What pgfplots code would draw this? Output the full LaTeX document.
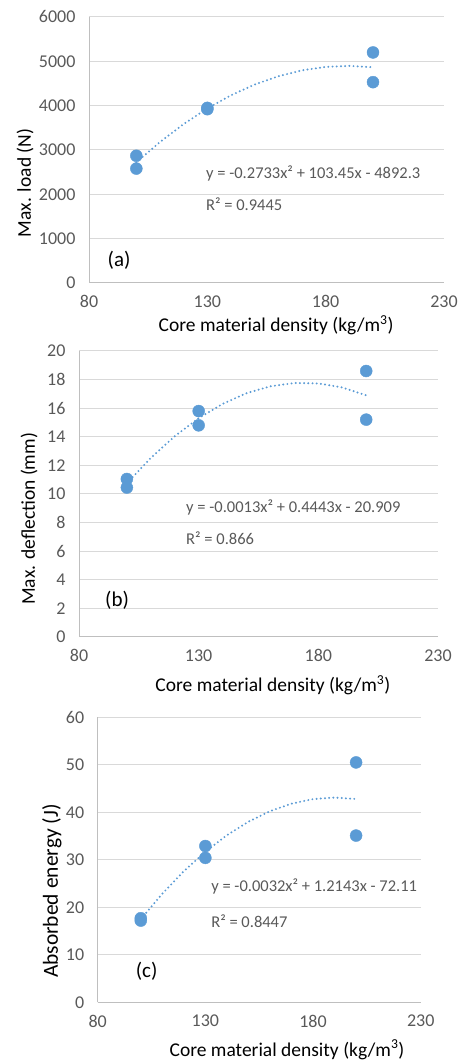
\documentclass[border=0pt]{standalone}
\usepackage{fontspec}
\setmainfont{Carlito}
\usepackage{pgfplots}
\pgfplotsset{compat=1.18}
\definecolor{xblue}{HTML}{5B9BD5}
\definecolor{tickgray}{HTML}{595959}
\definecolor{gridgray}{HTML}{D9D9D9}
\definecolor{axgray}{HTML}{BFBFBF}
\tikzset{
  eq/.style={anchor=west, text=tickgray, font=\fontsize{16.5}{18}\selectfont, inner sep=1pt},
  tag/.style={font=\fontsize{21}{23}\selectfont},
}
\pgfplotsset{
  panel/.style={
    scale only axis,
    anchor=south west,
    axis x line*=bottom,
    axis y line*=left,
    axis line style={axgray, line width=1pt},
    xmin=80, xmax=230,
    xtick={80,130,180,230},
    major tick length=0pt,
    ymajorgrids,
    grid style={gridgray, line width=1pt},
    tick label style={font=\fontsize{18}{20}\selectfont, text=tickgray},
    xticklabel style={yshift=-9pt},
    yticklabel style={xshift=-10pt},
    /pgf/number format/assume math mode=true,
    /pgf/number format/1000 sep={},
    label style={font=\fontsize{19.5}{22}\selectfont},
    clip=false,
  },
  pts/.style={only marks, mark=*, mark size=6pt, mark options={fill=xblue, draw=xblue}},
  trend/.style={no marks, xblue, line width=2.2pt, line cap=round, dash pattern=on 0pt off 4.2pt},
}
\begin{document}
\begin{tikzpicture}
\useasboundingbox (0,0) rectangle (461pt,1064pt);

% (a) max load
\begin{axis}[panel, at={(89pt,781pt)}, width=355pt, height=266pt,
  ymin=0, ymax=6000, ytick={0,1000,...,6000},
  xlabel={Core material density (kg/m\textsuperscript{3})},
  ylabel={Max. load (N)},
  xlabel style={at={(axis description cs:0.527,-0.158)}, anchor=center},
  ylabel style={at={(axis description cs:-0.18,0.376)}, anchor=center},
]
\addplot[pts] coordinates {(100,2870) (100,2580) (130,3950) (130,3920) (200,5200) (200,4530)};
\addplot[trend] coordinates {(100,2720) (110,3180) (120,3586) (130,3937) (140,4234) (150,4476)
  (160,4663) (170,4796) (180,4874) (190,4897) (200,4866)};
\node[eq] at (axis cs:129,2481) {y = -0.2733x² + 103.45x - 4892.3};
\node[eq, fill=white] at (axis cs:129,1782) {R² = 0.9445};
\node[tag] at (axis cs:92.7,519) {(a)};
\end{axis}

% (b) max deflection
\begin{axis}[panel, at={(79pt,427pt)}, width=359pt, height=286pt,
  ymin=0, ymax=20, ytick={0,2,...,20},
  xlabel={Core material density (kg/m\textsuperscript{3})},
  ylabel={Max. deflection (mm)},
  xlabel style={at={(axis description cs:0.54,-0.168)}, anchor=center},
  ylabel style={at={(axis description cs:-0.139,0.413)}, anchor=center},
]
\addplot[pts] coordinates {(100,11.05) (100,10.45) (130,15.8) (130,14.8) (200,18.6) (200,15.2)};
\addplot[trend] coordinates {(100,10.75) (110,12.52) (120,14.04) (130,15.30) (140,16.30) (150,17.05)
  (160,17.53) (170,17.76) (180,17.73) (190,17.45) (200,16.90)};
\node[eq] at (axis cs:124.3,9.09) {y = -0.0013x² + 0.4443x - 20.909};
\node[eq] at (axis cs:124.3,6.92) {R² = 0.866};
\node[tag] at (axis cs:95.9,2.59) {(b)};
\end{axis}

% (c) absorbed energy
\begin{axis}[panel, at={(97.7pt,61.7pt)}, width=323pt, height=285pt,
  ymin=0, ymax=60, ytick={0,10,...,60},
  xlabel={Core material density (kg/m\textsuperscript{3})},
  ylabel={Absorbed energy (J)},
  xlabel style={at={(axis description cs:0.586,-0.167)}, anchor=center},
  ylabel style={at={(axis description cs:-0.142,0.39)}, anchor=center, font=\fontsize{21.5}{23}\selectfont},
]
\addplot[pts] coordinates {(100,17.7) (100,17.2) (130,32.9) (130,30.4) (200,50.5) (200,35.1)};
\addplot[trend] coordinates {(100,17.50) (110,22.86) (120,27.60) (130,31.70) (140,35.17) (150,38.02)
  (160,40.23) (170,41.82) (180,42.78) (190,43.10) (200,42.80)};
\node[eq] at (axis cs:132.2,24.3) {y = -0.0032x² + 1.2143x - 72.11};
\node[eq, fill=white] at (axis cs:132.2,17.0) {R² = 0.8447};
\node[tag] at (axis cs:102.7,6.44) {(c)};
\end{axis}
\end{tikzpicture}
\end{document}
